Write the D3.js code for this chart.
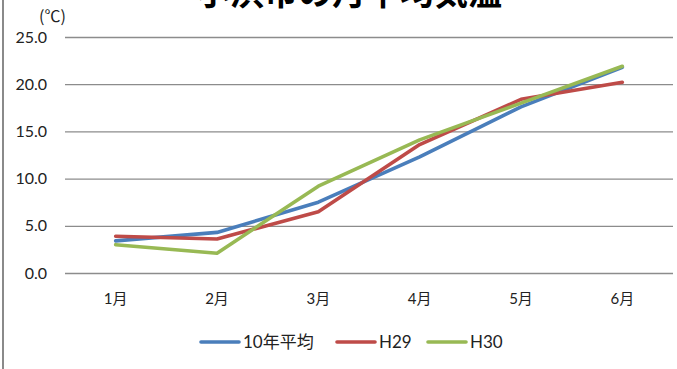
<!DOCTYPE html>
<html>
<head>
<meta charset="utf-8">
<script src="https://cdn.jsdelivr.net/npm/d3@7"></script>
<style>
  html, body { margin: 0; padding: 0; background: #fff; }
  svg { display: block; }
  text { font-family: Lato, "Noto Sans CJK JP", sans-serif; fill: #222; }
</style>
</head>
<body>
<svg id="chart" width="677" height="369"></svg>
<script>
// Monthly mean temperature (°C), Jan–Jun
const months = ["1月", "2月", "3月", "4月", "5月", "6月"];
const avg10y = [3.4, 4.3, 7.5, 12.3, 17.6, 21.8];
const h29 = [3.9, 3.6, 6.5, 13.6, 18.4, 20.2];
const h30 = [3.0, 2.1, 9.2, 14.1, 18.0, 21.9];
const yTicks = [0, 5, 10, 15, 20, 25];
const seriesNames = ["10年平均", "H29", "H30"];
const seriesColors = ["#4a7ebb", "#be4b48", "#98b954"];

const series = [avg10y, h29, h30].map((values, i) => ({
  name: seriesNames[i], color: seriesColors[i], values
}));

const svg = d3.select("#chart");
const margin = { left: 65, right: 4, top: 37, bottom: 96 };
const W = 677, H = 369;

const x = d3.scaleBand().domain(months)
  .range([margin.left, W - margin.right]);
const y = d3.scaleLinear().domain([0, 25])
  .range([H - margin.bottom, margin.top]);

// Outer frame edge on the left
svg.append("line")
  .attr("x1", 3).attr("x2", 3).attr("y1", 0).attr("y2", H)
  .attr("stroke", "#8a8a8a").attr("stroke-width", 2);

// Title (sits partly above the frame top)
svg.append("text")
  .attr("x", 349).attr("y", 5)
  .attr("text-anchor", "middle")
  .style("font-size", "34px").style("font-weight", "bold")
  .style("font-family", "'Noto Sans CJK JP', sans-serif")
  .style("fill", "#000")
  .text("小浜市の月平均気温");

// Unit label
svg.append("text")
  .attr("x", 39).attr("y", 22)
  .style("font-size", "16px")
  .style("font-family", "'Noto Sans CJK JP', sans-serif")
  .text("(℃)");

// Horizontal gridlines + y labels
const yAxis = d3.axisLeft(y).tickValues(yTicks)
  .tickFormat(d3.format(".1f"))
  .tickSize(-(W - margin.left - margin.right))
  .tickPadding(18);
const gy = svg.append("g")
  .attr("transform", `translate(${margin.left},0)`)
  .call(yAxis);
gy.select(".domain").remove();
gy.selectAll(".tick line").attr("stroke", "#8c8c8c").attr("stroke-width", 1.3);
gy.selectAll(".tick text").style("font-size", "16px").style("fill", "#222");

// Category labels
const xAxis = d3.axisBottom(x).tickSize(0).tickPadding(20);
const gx = svg.append("g")
  .attr("transform", `translate(0,${y(0)})`)
  .call(xAxis);
gx.select(".domain").remove();
gx.selectAll(".tick text").style("font-size", "15px").style("fill", "#222");

// Series lines
const line = d3.line()
  .x((d, i) => x(months[i]) + x.bandwidth() / 2)
  .y(d => y(d));

svg.append("g").selectAll("path")
  .data(series)
  .join("path")
  .attr("d", d => line(d.values))
  .attr("fill", "none")
  .attr("stroke", d => d.color)
  .attr("stroke-width", 3.6)
  .attr("stroke-linejoin", "round")
  .attr("stroke-linecap", "round");

// Legend
const legendItems = [
  { x: 201, tx: 243 },
  { x: 337, tx: 379 },
  { x: 428, tx: 470 }
];
const lg = svg.append("g");
series.forEach((s, i) => {
  const it = legendItems[i];
  lg.append("line")
    .attr("x1", it.x).attr("x2", it.x + 38)
    .attr("y1", 342).attr("y2", 342)
    .attr("stroke", s.color).attr("stroke-width", 3.6)
    .attr("stroke-linecap", "round");
  lg.append("text")
    .attr("x", it.tx).attr("y", 342).attr("dy", "0.35em")
    .style("font-size", "17px")
    .text(s.name);
});
</script>
</body>
</html>
